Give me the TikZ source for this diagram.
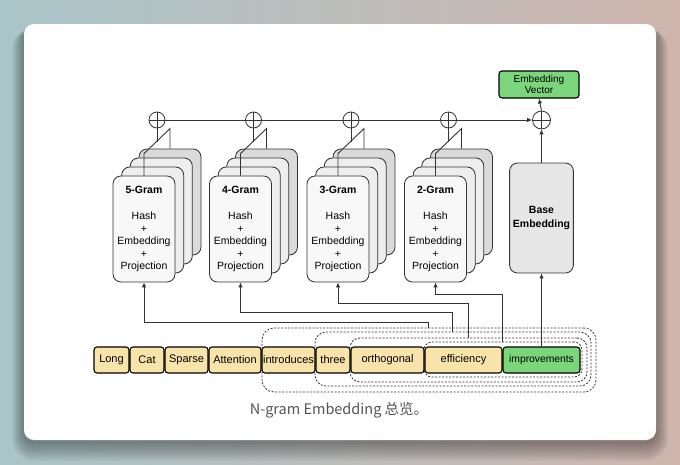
\documentclass[tikz,border=0pt]{standalone}
\usepackage{fontspec}
\setmainfont{Liberation Sans}
\newfontfamily\cjkfont{Noto Sans CJK SC}
\usetikzlibrary{arrows.meta, fit, positioning}
\definecolor{bgleft}{HTML}{A9C5C9}
\definecolor{bgmid}{HTML}{B4B8C0}
\definecolor{bgright}{HTML}{CFB5AD}
\definecolor{tokyellow}{HTML}{F8E4AA}
\definecolor{tokgreen}{HTML}{7BD67B}
\definecolor{frontgray}{HTML}{F8F8F8}
\definecolor{midgray}{HTML}{EEEEEE}
\definecolor{backgray}{HTML}{DADADA}
\definecolor{basegray}{HTML}{E6E6E6}
\definecolor{edgegray}{HTML}{333333}
\definecolor{capgray}{HTML}{555555}

\begin{document}
\begin{tikzpicture}[x=1pt, y=-1pt,
  token/.style={draw=black, line width=1.1pt, rounded corners=3pt, fill=tokyellow,
    minimum height=26pt, inner sep=0pt, font=\fontsize{11}{12}\selectfont},
  gramcard/.style={draw=edgegray, line width=0.85pt, rounded corners=8pt,
    minimum width=62pt, minimum height=106pt},
  sumnode/.style={circle, draw=edgegray, fill=white, line width=0.8pt, minimum size=16pt, inner sep=0pt,
    path picture={\draw[edgegray, line width=0.8pt]
      (path picture bounding box.north) -- (path picture bounding box.south)
      (path picture bounding box.west) -- (path picture bounding box.east);}},
  edge/.style={draw=edgegray, line width=0.9pt},
  link/.style={draw=edgegray, line width=0.9pt, -{Latex[length=5pt, width=4.5pt]}},
  ngroup/.style={draw=edgegray, line width=0.8pt, dash pattern=on 2pt off 1.5pt, inner sep=0pt}]
  \useasboundingbox (0,0) rectangle (680,464);

  % --- Backdrop and card ---
  \shade[left color=bgleft, middle color=bgmid, right color=bgright] (0,0) rectangle (680,464);
  \foreach \s in {1,...,12}
    \fill[black, opacity=0.03, rounded corners=10pt+\s pt] (24-\s, 28) rectangle (656+\s, 442+1.6*\s);
  \fill[white, rounded corners=10pt] (24,24) rectangle (656,440);

  % --- Token row ---
  \foreach \name/\x/\w/\txt in {tok1/111.5/35/Long, tok2/147/34/Cat, tok3/186.5/43/Sparse,
      tok4/235/52/Attention, tok5/288.5/53/introduces, tok6/333/34/three,
      tok7/387.5/73/orthogonal, tok8/463.5/77/efficiency} {
    \node[token, minimum width=\w pt] (\name) at (\x,360) {\txt};
  }
  \node[token, fill=tokgreen, minimum width=77pt, font=\fontsize{10.3}{12}\selectfont] (tok9) at (541.5,360) {improvements};

  % n-gram windows, all ending at the last token
  \node[ngroup, rounded corners=12pt, fit={(262,328) (596,392)}] (g5) {};
  \node[ngroup, rounded corners=11pt, fit={(315,332) (591,386)}] (g4) {};
  \node[ngroup, rounded corners=10pt, fit={(350,338) (587,382)}] (g3) {};
  \node[ngroup, rounded corners=8pt, fit={(424,342) (582,377)}] (g2) {};

  % --- Stacked n-gram cards ---
  \foreach \n/\x in {5/144, 4/240.5, 3/338, 2/435.5} {
    \node[gramcard, fill=backgray] (sc\n) at (\x+26, 202) {};
    \node[gramcard, fill=midgray] (sb\n) at (\x+17.3, 211) {};
    \node[gramcard, fill=midgray] (sa\n) at (\x+8.7, 220) {};
    \node[gramcard, fill=frontgray, align=center, font=\fontsize{10.5}{12.5}\selectfont] (f\n) at (\x,229)
      {\textbf{\n-Gram}\\[13.5pt]Hash\\+\\Embedding\\+\\Projection};
    \node[sumnode] (c\n) at (\x+13,120) {};
    \draw[edge] (f\n.north) -- ++(0,-22) -- ++(26,-25) -- ++(0,20);
    \draw[edge] (c\n.south) -- ++(0,14);
  }

  % --- Base branch and output ---
  \node[gramcard, fill=basegray, minimum height=110pt, align=center,
    font=\fontsize{10.5}{14}\selectfont\bfseries] (base) at (541.5,218) {Base\\Embedding};
  \node[sumnode, minimum size=18pt] (cf) at (541.5,120) {};
  \node[draw=black, line width=1.1pt, rounded corners=3pt, fill=tokgreen, minimum width=80pt,
    minimum height=27pt, inner sep=0pt, align=center, font=\fontsize{10}{11.5}\selectfont] (ev) at (539,84.5)
    {Embedding\\Vector};

  % connectors
  \draw[link] (c5.east) -- (cf.west);
  \draw[link] (g5.north -| 428,0) -- ++(0,-5) -| (f5.south);
  \draw[link] (g4.north -| 452,0) -- ++(0,-19) -| (f4.south);
  \draw[link] (g3.north -| 468,0) -- ++(0,-34) -| (f3.south);
  \draw[link] (g2.north -| 502,0) -- ++(0,-47) -| (f2.south);
  \draw[link] (tok9.north) -- (base.south);
  \draw[link] (base.north) -- (cf.south);
  \draw[link] (cf.north) -- (ev.south);

  % caption
  \node[font=\cjkfont\fontsize{14.5}{16}\selectfont, text=capgray] (cap) at (339,410) {N-gram Embedding 总览。};
\end{tikzpicture}
\end{document}
